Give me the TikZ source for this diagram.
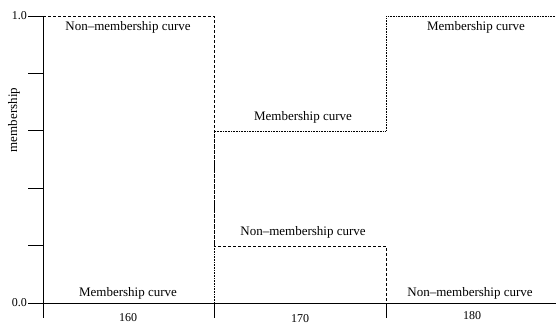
\documentclass[tikz,border=0pt]{standalone}
\usepackage{fontspec}
\setmainfont{Liberation Serif}
\usetikzlibrary{positioning}
\tikzset{
  axis/.style={draw=black,line width=0.8pt},
  memb/.style={draw=black,line width=0.7pt,dash pattern=on 0.8pt off 0.8pt},
  nonmemb/.style={draw=black,line width=0.7pt,dash pattern=on 3pt off 2pt},
  tag/.style={font=\fontsize{13}{15}\selectfont,inner sep=0pt},
  num/.style={font=\fontsize{12}{14}\selectfont,inner sep=0pt},
}
\begin{document}
\begin{tikzpicture}[x=1pt,y=-1pt]
  \useasboundingbox (0,0) rectangle (556,324);
  % axes
  \coordinate (o) at (43,303);
  \coordinate (ytop) at (43,16);
  \coordinate (xend) at (556,303);
  \draw[axis] (ytop) -- (o) -- (xend);
  \foreach \y in {16,73.4,130.8,188.2,245.6,303}
    \draw[axis] (28,\y) -- (43,\y);
  \foreach \x in {43,214,386}
    \draw[axis] (\x,303) -- (\x,318);
  \node[num,anchor=east] (one) at (27,16) {1.0};
  \node[num,anchor=east] (zero) at (27,303) {0.0};
  \node[tag,rotate=90] (ylab) at (14,120) {membership};
  \node[num] (t160) at (128,318) {160};
  \node[num] (t170) at (300,318.5) {170};
  \node[num] (t180) at (472,316) {180};
  % membership curve
  \coordinate (m0) at (43,303);
  \coordinate (m1) at (214,303);
  \coordinate (m2) at (214,131);
  \coordinate (m3) at (386,131);
  \coordinate (m4) at (386,16);
  \coordinate (m5) at (556,16);
  \draw[memb] (m0) -- (m1) -- (m2) -- (m3) -- (m4) -- (m5);
  % non-membership curve
  \coordinate (n0) at (43,16);
  \coordinate (n1) at (214,16);
  \coordinate (n2) at (214,246);
  \coordinate (n3) at (386,246);
  \coordinate (n4) at (386,303);
  \coordinate (n5) at (556,303);
  \draw[nonmemb] (n0) -- (n1) -- (n2) -- (n3) -- (n4) -- (n5);
  % labels
  \node[tag] (nl1) at (128,27) {Non--membership curve};
  \node[tag] (ml1) at (128,293) {Membership curve};
  \node[tag] (ml2) at (303,117) {Membership curve};
  \node[tag] (nl2) at (303,232) {Non--membership curve};
  \node[tag] (ml3) at (476,27) {Membership curve};
  \node[tag] (nl3) at (470,293) {Non--membership curve};
\end{tikzpicture}
\end{document}
